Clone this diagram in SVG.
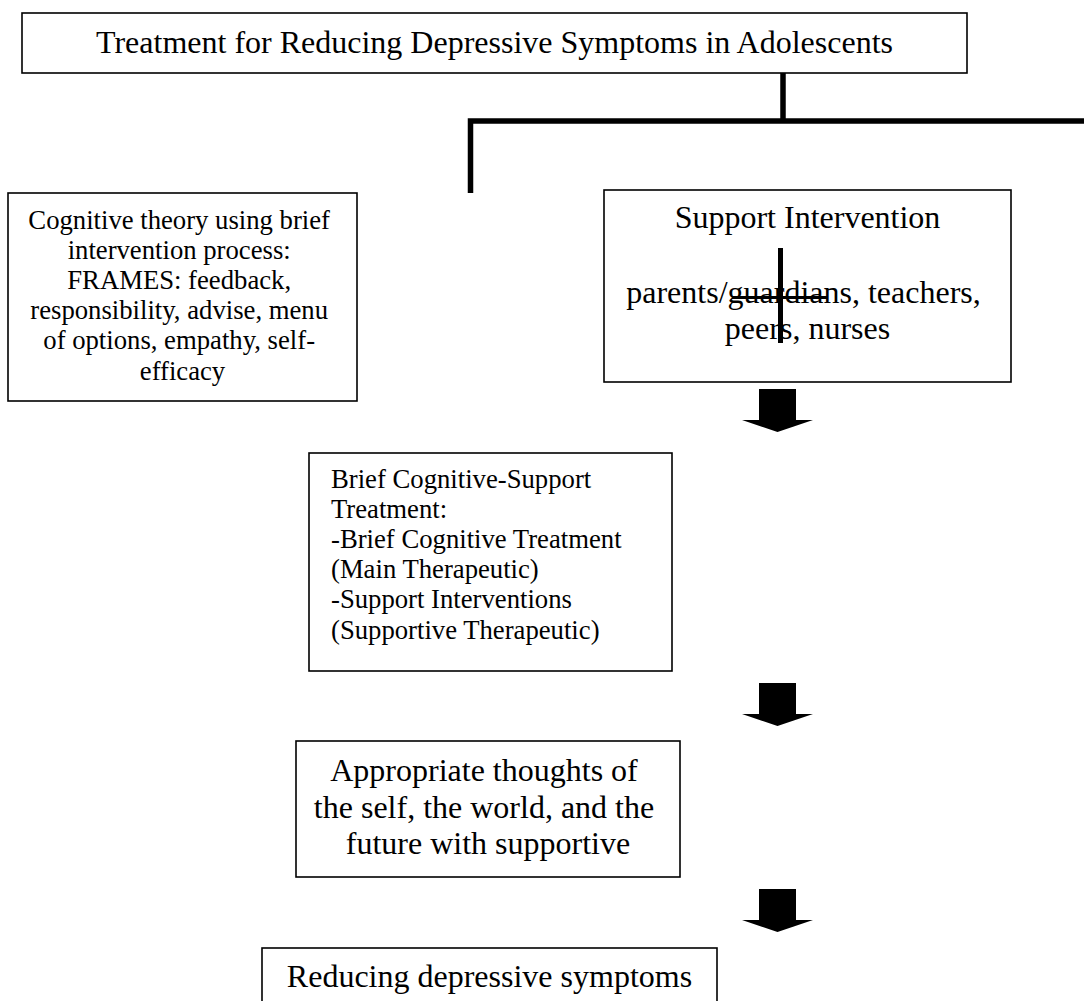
<svg xmlns="http://www.w3.org/2000/svg" width="1084" height="1001" viewBox="0 0 1084 1001">
<defs>
<style>
.box{fill:#fff;stroke:#000;stroke-width:1.6}
.t32{font-family:"Liberation Serif","Times New Roman",serif;font-size:32px;fill:#000}
.t27{font-family:"Liberation Serif","Times New Roman",serif;font-size:26.7px;fill:#000}
.c{text-anchor:middle}
.conn{stroke:#000;stroke-width:5.5;fill:none}
.arrow{fill:#000}
</style>
<path id="blockArrow" d="M-18.5,0 H18.5 V31 H35.5 L0,43 L-35.5,31 H-18.5 Z"/>
</defs>
<rect width="1084" height="1001" fill="#fff"/>

<g id="connectors">
<path class="conn" d="M783,73 V121"/>
<path class="conn" d="M470.5,193 V121 H1084"/>
<use href="#blockArrow" class="arrow" x="777.5" y="389"/>
<use href="#blockArrow" class="arrow" x="777.5" y="683"/>
<use href="#blockArrow" class="arrow" x="777.5" y="889"/>
</g>

<g id="title">
<rect class="box" x="22" y="13" width="945" height="60"/>
<text class="t32 c" x="494.5" y="52.5">Treatment for Reducing Depressive Symptoms in Adolescents</text>
</g>

<g id="cognitive-theory">
<rect class="box" x="8" y="193" width="349" height="208"/>
<text class="t27 c">
<tspan x="182.5" y="228.5">Cognitive theory using brief</tspan>
<tspan x="182.5" y="258.7">intervention process:</tspan>
<tspan x="182.5" y="288.9">FRAMES: feedback,</tspan>
<tspan x="182.5" y="319.1">responsibility, advise, menu</tspan>
<tspan x="182.5" y="349.3">of options, empathy, self-</tspan>
<tspan x="182.5" y="379.5">efficacy</tspan>
</text>
</g>

<g id="support-intervention">
<rect class="box" x="604" y="190" width="407" height="192"/>
<text class="t32 c" x="807.5" y="228">Support Intervention</text>
<text class="t32 c">
<tspan x="807.5" y="302.5">parents/guardians, teachers,</tspan>
<tspan x="807.5" y="338.5">peers, nurses</tspan>
</text>
<line x1="732" y1="297.5" x2="827" y2="297.5" stroke="#000" stroke-width="3"/>
<line x1="780.5" y1="248" x2="780.5" y2="343" stroke="#000" stroke-width="5"/>
</g>

<g id="brief-cognitive-support">
<rect class="box" x="309" y="453" width="363" height="218"/>
<text class="t27">
<tspan x="331" y="487.5">Brief Cognitive-Support</tspan>
<tspan x="331" y="517.7">Treatment:</tspan>
<tspan x="331" y="547.9">-Brief Cognitive Treatment</tspan>
<tspan x="331" y="578.1">(Main Therapeutic)</tspan>
<tspan x="331" y="608.3">-Support Interventions</tspan>
<tspan x="331" y="638.5">(Supportive Therapeutic)</tspan>
</text>
</g>

<g id="appropriate-thoughts">
<rect class="box" x="296" y="741" width="384" height="136"/>
<text class="t32 c">
<tspan x="488" y="781">Appropriate thoughts of</tspan>
<tspan x="488" y="817.5">the self, the world, and the</tspan>
<tspan x="488" y="854">future with supportive</tspan>
</text>
</g>

<g id="reducing-symptoms">
<rect class="box" x="262" y="948" width="455" height="70"/>
<text class="t32 c" x="489.5" y="987">Reducing depressive symptoms</text>
</g>
</svg>
